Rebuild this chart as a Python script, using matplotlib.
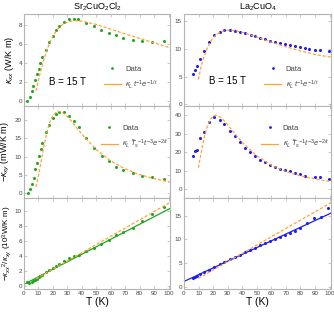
import matplotlib
matplotlib.use('Agg')
import matplotlib.pyplot as plt
from matplotlib.lines import Line2D

plt.rcParams['font.family'] = ['Liberation Sans', 'DejaVu Sans']
plt.rcParams['mathtext.fontset'] = 'custom'
plt.rcParams['mathtext.rm'] = 'Liberation Sans'
plt.rcParams['mathtext.it'] = 'Liberation Sans:italic'

# ---- Sr2CuO2Cl2 ----
T_sr = [2.3, 3.9, 5.3, 6.5, 7.9, 9.0, 10.2, 11.3, 12.5, 15.0, 17.6, 19.9, 22.2, 24.5,
        27.9, 31.4, 34.4, 37.6, 43.2, 48.7, 53.6, 58.7, 63.7, 68.8, 75.3, 81.3, 88.7, 97.0]
kxx_sr = [0.04, 0.46, 1.03, 1.63, 2.23, 2.87, 3.43, 4.0, 4.67, 5.42, 6.2, 6.9, 7.5, 7.93,
          8.39, 8.67, 8.71, 8.64, 8.28, 7.93, 7.54, 7.19, 6.94, 6.69, 6.48, 6.34, 6.30, 6.34]
T_sr_xy = [2.8, 4.2, 5.5, 6.7, 7.9, 9.0, 10.2, 11.5, 12.7, 15.2, 17.6, 19.9, 22.2, 24.5,
           27.9, 31.2, 34.9, 37.9, 43.2, 48.7, 53.8, 58.7, 63.7, 68.8, 75.3, 81.3, 88.7, 97.0]
kxy_sr = [0.0, 0.9, 2.4, 4.0, 6.4, 8.1, 10.1, 12.0, 13.7, 16.8, 18.75, 20.6, 21.8, 22.4,
          22.4, 21.3, 19.8, 18.1, 15.0, 12.3, 10.1, 8.66, 7.23, 6.25, 5.45, 4.73, 4.2, 3.75]
T_sr_r = [1.8, 3.7, 5.3, 6.5, 7.6, 9.0, 10.2, 11.3, 12.7, 15.0, 17.6, 19.9, 22.2, 24.5,
          27.9, 31.4, 34.4, 37.9, 43.2, 48.7, 53.6, 58.7, 63.7, 68.8, 75.3, 81.3, 88.7, 97.0]
ratio_sr = [0.5, 0.36, 0.45, 0.59, 0.77, 0.95, 1.18, 1.31, 1.45, 1.76, 2.08, 2.4, 2.67, 2.94,
            3.3, 3.67, 3.94, 4.12, 4.62, 5.02, 5.61, 6.06, 6.7, 7.15, 7.7, 8.6, 9.5, 10.45]

fitT_sr_xx = [8.3, 10, 12, 14, 16, 18, 20, 23, 26, 30, 35, 40, 50, 60, 70, 80, 90, 101]
fit_sr_xx = [1.1, 2.27, 3.45, 4.54, 5.48, 6.25, 6.87, 7.56, 8.01, 8.35, 8.49, 8.45,
             8.10, 7.6, 7.1, 6.63, 6.15, 5.65]
fitT_sr_xy = [8.3, 10, 12, 14, 16, 18, 20, 23, 26, 30, 35, 40, 50, 60, 70, 80, 90, 101]
fit_sr_xy = [1.6, 4.69, 9.0, 13.35, 17.0, 19.7, 21.4, 22.55, 22.4, 21.1, 18.7, 16.2,
             11.9, 8.75, 6.54, 4.98, 3.87, 2.9]
fitT_sr_r = [8.3, 101]
fit_sr_r = [0.91, 11.1]
lineT_sr = [0, 101]
line_sr = [0.18, 10.3]

# ---- La2CuO4 ----
T_la = [6.2, 7.4, 8.7, 11.3, 13.8, 17.5, 20.9, 24.4, 27.8, 31.3, 34.9, 38.6, 42.1, 45.7,
        49.0, 52.4, 55.6, 59.3, 62.8, 66.0, 69.4, 72.6, 76.1, 79.5, 83.0, 86.2, 89.7, 93.3, 99.5]
kxx_la = [5.5, 6.25, 6.98, 8.26, 9.6, 11.17, 12.45, 13.1, 13.4, 13.48, 13.3, 13.05, 12.8, 12.57,
          12.26, 11.96, 11.7, 11.48, 11.23, 11.05, 10.87, 10.63, 10.44, 10.26, 10.14, 9.96, 9.84,
          9.78, 9.65]
T_la_xy = [6.2, 7.6, 9.0, 11.3, 14.0, 17.5, 20.9, 24.4, 27.8, 31.5, 34.9, 38.4, 41.8, 45.3,
           48.7, 52.2, 55.6, 59.1, 62.3, 66.0, 69.2, 72.6, 76.3, 79.8, 83.4, 89.7, 93.3, 99.8]
kxy_la = [18.2, 20.5, 21.2, 27.8, 30.8, 36.6, 38.8, 37.3, 35.0, 31.5, 28.7, 25.3, 22.5, 20.2,
          17.9, 15.9, 14.7, 13.3, 12.0, 11.15, 10.6, 9.73, 8.67, 7.96, 7.26, 6.73, 6.37, 5.49]
T_la_r = [6.2, 7.4, 8.7, 11.3, 14.0, 17.5, 20.9, 24.4, 27.8, 31.5, 34.9, 38.4, 41.8, 45.3,
          48.7, 52.2, 55.6, 59.1, 62.3, 66.0, 69.2, 72.6, 76.3, 79.8, 84.6, 89.2, 93.8, 99.1]
ratio_la = [1.77, 2.0, 2.29, 2.59, 3.1, 3.55, 4.14, 4.73, 5.25, 5.84, 6.28, 6.8, 7.32, 7.76,
            8.28, 8.8, 9.24, 9.68, 10.05, 10.5, 10.94, 11.3, 11.9, 12.5, 13.4, 14.6, 14.8, 16.6]

fitT_la_xx = [9.9, 12, 14, 16, 18, 20, 23, 26, 30, 35, 40, 50, 60, 70, 80, 90, 101]
fit_la_xx = [4.5, 7.1, 8.81, 10.16, 11.2, 11.97, 12.75, 13.17, 13.38, 13.3, 13.0, 12.14,
             11.2, 10.4, 9.65, 9.0, 8.5]
fitT_la_xy = [9.9, 12, 14, 16, 18, 20, 22, 25, 28, 32, 36, 40, 50, 60, 70, 80, 90, 101]
fit_la_xy = [11.6, 20.7, 28.4, 34.1, 37.7, 39.5, 40.0, 38.9, 36.7, 32.9, 29.0, 25.3,
             18.0, 12.95, 9.54, 7.18, 5.52, 4.1]
fitT_la_r = [9.9, 101]
fit_la_r = [1.75, 17.8]
lineT_la = [0, 101]
line_la = [1.1, 15.6]

green = '#1fa81f'
blue = '#1d1df5'
orange = '#ffa23a'
frame = '#b4b4b4'
txt = '#444444'

fig = plt.figure(figsize=(3.34, 3.12), dpi=100)
W, H = 334.0, 312.0
cols = [(24, 170), (184, 331)]
rows = [(14, 106), (106, 198), (198, 289)]

axes = []
for r, (y0, y1) in enumerate(rows):
    row = []
    for c, (x0, x1) in enumerate(cols):
        ax = fig.add_axes([x0 / W, 1 - y1 / H, (x1 - x0) / W, (y1 - y0) / H])
        ax.set_xlim(0, 101)
        ax.set_xticks(range(0, 101, 10))
        for s in ax.spines.values():
            s.set_color(frame)
            s.set_linewidth(0.8)
        ax.tick_params(direction='in', length=2, width=0.5, color=frame,
                       labelsize=4.5, labelcolor=txt, pad=1.5,
                       top=True, right=True)
        if r < 2:
            ax.tick_params(labelbottom=False)
        row.append(ax)
    axes.append(row)

ms = 2.2
# top row
ax = axes[0][0]
ax.plot(T_sr, kxx_sr, 'o', color=green, ms=ms, mec='none')
ax.plot(fitT_sr_xx, fit_sr_xx, '--', color=orange, lw=0.9, dashes=(2.5, 1.5))
ax.set_ylim(-0.5, 9.2)
ax.set_yticks([0, 2, 4, 6, 8])
ax.set_ylabel(r'$\kappa_{xx}$ (W/K m)', fontsize=6.5, labelpad=2)
ax.text(30, 2.0, 'B = 15 T', fontsize=7, ha='center', va='center')
ax.set_title(r'Sr$_2$CuO$_2$Cl$_2$', fontsize=6.5, pad=3)

ax = axes[0][1]
ax.plot(T_la, kxx_la, 'o', color=blue, ms=ms, mec='none')
ax.plot(fitT_la_xx, fit_la_xx, '--', color=orange, lw=0.9, dashes=(2.5, 1.5))
ax.set_ylim(-0.3, 16.3)
ax.set_yticks([0, 5, 10, 15])
ax.text(30, 4.2, 'B = 15 T', fontsize=7, ha='center', va='center')
ax.set_title(r'La$_2$CuO$_4$', fontsize=6.5, pad=3)

# middle row
ax = axes[1][0]
ax.plot(T_sr_xy, kxy_sr, 'o', color=green, ms=ms, mec='none')
ax.plot(fitT_sr_xy, fit_sr_xy, '--', color=orange, lw=0.9, dashes=(2.5, 1.5))
ax.set_ylim(-1.5, 24)
ax.set_yticks([0, 5, 10, 15, 20])
ax.set_ylabel(r'$-\kappa_{xy}$ (mW/K m)', fontsize=6.5, labelpad=2)

ax = axes[1][1]
ax.plot(T_la_xy, kxy_la, 'o', color=blue, ms=ms, mec='none')
ax.plot(fitT_la_xy, fit_la_xy, '--', color=orange, lw=0.9, dashes=(2.5, 1.5))
ax.set_ylim(-4.8, 45)
ax.set_yticks([0, 10, 20, 30, 40])

# bottom row
ax = axes[2][0]
ax.plot(T_sr_r, ratio_sr, 'o', color=green, ms=ms, mec='none')
ax.plot(lineT_sr, line_sr, '-', color=green, lw=0.9)
ax.plot(fitT_sr_r, fit_sr_r, '--', color=orange, lw=0.9, dashes=(2.5, 1.5))
ax.set_ylim(-0.45, 11.7)
ax.set_yticks([0, 2, 4, 6, 8, 10])
ax.set_ylabel(r'$-\kappa_{xx}{}^2/\kappa_{xy}$ (10$^3$W/K m)', fontsize=5.8, labelpad=1)
ax.set_xlabel('T (K)', fontsize=7.5, labelpad=1)

ax = axes[2][1]
ax.plot(T_la_r, ratio_la, 'o', color=blue, ms=ms, mec='none')
ax.plot(lineT_la, line_la, '-', color=blue, lw=0.9)
ax.plot(fitT_la_r, fit_la_r, '--', color=orange, lw=0.9, dashes=(2.5, 1.5))
ax.set_ylim(-0.5, 18.8)
ax.set_yticks([0, 5, 10, 15])
ax.set_xlabel('T (K)', fontsize=7.5, labelpad=1)

# legends
lab1 = r'$\kappa_L\,t^{-1}e^{-1/t}$'
lab2 = r'$\kappa_L\,\tilde{T}_s{}^{-1}t^{-3}e^{-2/t}$'
for r, lab in [(0, lab1), (1, lab2)]:
    for c, col in [(0, green), (1, blue)]:
        h = [Line2D([], [], ls='none', marker='o', color=col, ms=2, mec='none'),
             Line2D([], [], color=orange, lw=0.9)]
        loc = (0.5, 0.09) if r == 0 else (0.48, 0.45)
        axes[r][c].legend(h, ['Data', lab], loc='lower left', bbox_to_anchor=loc,
                          fontsize=5.5, frameon=False, handlelength=2.2,
                          handletextpad=0.6, labelspacing=0.7, labelcolor=txt)

fig.savefig('out.png', dpi=100)
